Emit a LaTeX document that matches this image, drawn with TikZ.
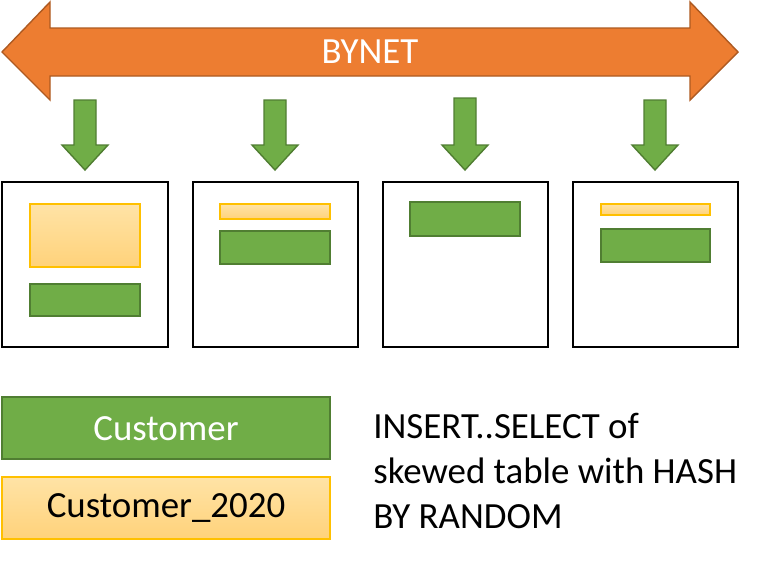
\documentclass[tikz,border=0pt]{standalone}
\usepackage{fontspec}
\setmainfont{Carlito}
\usetikzlibrary{positioning}

\definecolor{bynet_orange}{HTML}{ED7D31}
\definecolor{bynet_edge}{HTML}{AE5A21}
\definecolor{cust_green}{HTML}{70AD47}
\definecolor{cust_edge}{HTML}{507E32}
\definecolor{skew_top}{HTML}{FFE3A6}
\definecolor{skew_bot}{HTML}{FFD27A}
\definecolor{skew_edge}{HTML}{FFC000}

\tikzset{
    amp/.style={draw=black, line width=1.3pt},
    green tbl/.style={fill=cust_green, draw=cust_edge, line width=0.8pt},
    orange tbl/.style={top color=skew_top, bottom color=skew_bot, draw=skew_edge, line width=0.6pt},
    down arrow/.style={fill=cust_green, draw=cust_edge, line width=0.8pt},
    big text/.style={font=\fontsize{21}{25}\selectfont},
}

\begin{document}
\begin{tikzpicture}[x=0.02cm, y=-0.02cm]
    \useasboundingbox (0,0) rectangle (775,562);
    %\draw[help lines] (0,0) grid (775,562);
    % bynet
    \path[fill=bynet_orange, draw=bynet_edge, line width=0.8pt]
        (2,52) -- (50,2) -- (50,28) -- (690,28) -- (690,2) -- (738,52)
        -- (690,100) -- (690,76) -- (50,76) -- (50,100) -- cycle;
    \node[text=white, big text] (bynet) at (370,52) {BYNET};
    % arrows to the amps
    \foreach \x/\t in {85/100, 275/100, 465/98, 655/100} {
        \path[down arrow] (\x-11,\t) -- (\x+11,\t) -- (\x+11,145) -- (\x+23,145)
            -- (\x,170) -- (\x-23,145) -- (\x-11,145) -- cycle;
    }
    % amps
    \draw[amp] (2,182) rectangle (168,347);
    \draw[amp] (193,182) rectangle (358,347);
    \draw[amp] (383,182) rectangle (548,347);
    \draw[amp] (573,182) rectangle (738,347);
    % rows per amp
    \path[orange tbl] (30,204) rectangle (140,267);
    \path[green tbl] (30,284) rectangle (140,316);
    \path[orange tbl] (220,204) rectangle (330,219);
    \path[green tbl] (220,231) rectangle (330,264);
    \path[green tbl] (410,202) rectangle (520,236);
    \path[orange tbl] (601,204) rectangle (710,215);
    \path[green tbl] (601,229) rectangle (710,262);
    % legend
    \path[green tbl] (2,397) rectangle (330,459);
    \node[text=white, big text] (customer) at (166,429) {Customer};
    \path[orange tbl] (2,477) rectangle (330,539);
    \node[big text] (customer2020) at (166,508) {Customer\_2020};
    \node[anchor=north west, align=left, inner sep=0pt,
          font=\fontsize{21}{25.5}\selectfont] (note) at (373,413)
        {INSERT..SELECT of\\skewed table with HASH\\BY RANDOM};
\end{tikzpicture}
\end{document}
